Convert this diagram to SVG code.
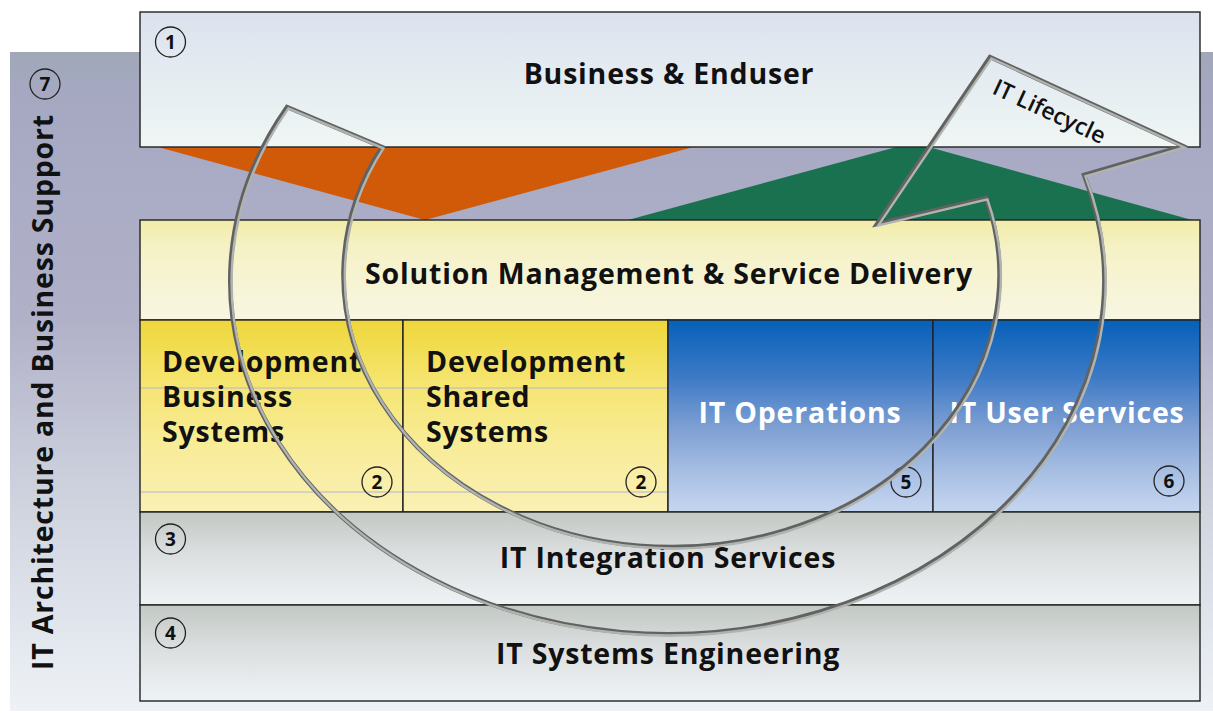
<svg xmlns="http://www.w3.org/2000/svg" width="1213" height="713" viewBox="0 0 1213 713">
  <defs>
    <linearGradient id="gBg" x1="0" y1="0" x2="0" y2="1">
      <stop offset="0" stop-color="#a0a8b8"/>
      <stop offset="0.06" stop-color="#a6a8c2"/>
      <stop offset="0.4" stop-color="#b0b0c8"/>
      <stop offset="0.65" stop-color="#ccd0dc"/>
      <stop offset="0.85" stop-color="#dfe4ec"/>
      <stop offset="1" stop-color="#eef2f6"/>
    </linearGradient>
    <linearGradient id="gTop" x1="0" y1="0" x2="0" y2="1">
      <stop offset="0" stop-color="#dbe2ee"/>
      <stop offset="0.45" stop-color="#e4ebf1"/>
      <stop offset="1" stop-color="#eff6f4"/>
    </linearGradient>
    <linearGradient id="gSol" x1="0" y1="0" x2="0" y2="1">
      <stop offset="0" stop-color="#f2eca8"/>
      <stop offset="0.3" stop-color="#f5f2c8"/>
      <stop offset="1" stop-color="#f8f6e2"/>
    </linearGradient>
    <linearGradient id="gDev" x1="0" y1="0" x2="0" y2="1">
      <stop offset="0" stop-color="#eed63a"/>
      <stop offset="0.3" stop-color="#f5e46c"/>
      <stop offset="0.65" stop-color="#f8ec98"/>
      <stop offset="1" stop-color="#f9f0b4"/>
    </linearGradient>
    <linearGradient id="gBlue" x1="0" y1="0" x2="0" y2="1">
      <stop offset="0" stop-color="#0660b8"/>
      <stop offset="0.3" stop-color="#3d7ac6"/>
      <stop offset="0.55" stop-color="#7c9ed2"/>
      <stop offset="0.8" stop-color="#a9c0e4"/>
      <stop offset="1" stop-color="#c6d6f0"/>
    </linearGradient>
    <linearGradient id="gGray" x1="0" y1="0" x2="0" y2="1">
      <stop offset="0" stop-color="#c2c8c4"/>
      <stop offset="0.45" stop-color="#dcdfe0"/>
      <stop offset="1" stop-color="#eef3f5"/>
    </linearGradient>
    <style>
      .box { stroke:#222; stroke-width:1.4; }
      .t { font-family:"Open Sans","DejaVu Sans",sans-serif; font-weight:700; font-size:28.5px; fill:#111; letter-spacing:0.8px; }
      .c { text-anchor:middle; }
      .w { fill:#ffffff; }
      .nc { fill:none; stroke:#222; stroke-width:1.3; }
      .n { font-family:"Open Sans","DejaVu Sans",sans-serif; font-weight:700; font-size:19px; fill:#111; text-anchor:middle; }
      .faint { stroke:#b4b4d4; stroke-width:1; }
      .arrowDark { fill:none; stroke:#626262; stroke-width:4.4; stroke-linejoin:miter; }
      .arrowLight { fill:none; stroke:#b0b4b0; stroke-width:2.4; stroke-linejoin:miter; }
      .lc { font-family:"Open Sans","DejaVu Sans",sans-serif; font-weight:600; font-size:23px; fill:#111; }
    </style>
  </defs>

  <g id="background">
    <rect x="10" y="52" width="1203" height="659" fill="url(#gBg)"/>
    <polygon points="154,146 697,146 425,220" fill="#d05a08"/>
    <polygon points="628,220 900,146 925,146 1192,220" fill="#1a7150"/>
  </g>

  <g id="node-architecture">
    <text class="t c" transform="translate(53,392) rotate(-90)">IT Architecture and Business Support</text>
    <circle class="nc" cx="45" cy="84" r="15"/>
    <text class="n" x="45" y="90.5">7</text>
  </g>

  <g id="node-business">
    <rect class="box" x="140" y="12" width="1060" height="135" fill="url(#gTop)"/>
    <text class="t c" x="669" y="84">Business &amp; Enduser</text>
    <circle class="nc" cx="170.5" cy="42" r="15"/>
    <text class="n" x="170.5" y="48.5">1</text>
  </g>

  <g id="node-solution">
    <rect class="box" x="140" y="220" width="1060" height="100" fill="url(#gSol)"/>
    <text class="t c" x="669" y="284">Solution Management &amp; Service Delivery</text>
  </g>

  <g id="node-dev-business">
    <rect class="box" x="140" y="320" width="263" height="192" fill="url(#gDev)"/>
    <line class="faint" x1="141" y1="388" x2="402" y2="388"/>
    <line class="faint" x1="141" y1="492" x2="402" y2="492"/>
    <text class="t" x="162" y="372">Development</text>
    <text class="t" x="162" y="407">Business</text>
    <text class="t" x="162" y="442">Systems</text>
    <circle class="nc" cx="377" cy="482" r="15"/>
    <text class="n" x="377" y="488.5">2</text>
  </g>

  <g id="node-dev-shared">
    <rect class="box" x="403" y="320" width="265" height="192" fill="url(#gDev)"/>
    <line class="faint" x1="404" y1="388" x2="667" y2="388"/>
    <line class="faint" x1="404" y1="492" x2="667" y2="492"/>
    <text class="t" x="426" y="372">Development</text>
    <text class="t" x="426" y="407">Shared</text>
    <text class="t" x="426" y="442">Systems</text>
    <circle class="nc" cx="641" cy="482" r="15"/>
    <text class="n" x="641" y="488.5">2</text>
  </g>

  <g id="node-operations">
    <rect class="box" x="668" y="320" width="265" height="192" fill="url(#gBlue)"/>
    <text class="t c w" x="800" y="423">IT Operations</text>
    <circle class="nc" cx="906" cy="482" r="15"/>
    <text class="n" x="906" y="488.5">5</text>
  </g>

  <g id="node-user-services">
    <rect class="box" x="933" y="320" width="267" height="192" fill="url(#gBlue)"/>
    <text class="t c w" x="1067" y="423">IT User Services</text>
    <circle class="nc" cx="1169" cy="481" r="15"/>
    <text class="n" x="1169" y="487.5">6</text>
  </g>

  <g id="node-integration">
    <rect class="box" x="140" y="512" width="1060" height="93" fill="url(#gGray)"/>
    <text class="t c" x="668" y="568">IT Integration Services</text>
    <circle class="nc" cx="170.5" cy="539" r="15"/>
    <text class="n" x="170.5" y="545.5">3</text>
  </g>

  <g id="node-engineering">
    <rect class="box" x="140" y="605" width="1060" height="96" fill="url(#gGray)"/>
    <text class="t c" x="668" y="664">IT Systems Engineering</text>
    <circle class="nc" cx="170.5" cy="633" r="15"/>
    <text class="n" x="170.5" y="639.5">4</text>
  </g>

  <g id="connectors">
    <path id="lifecycle" class="arrowDark" d="M 287,107 L 382,147 A 328 272 0 1 0 986,198 L 877,224 L 990,57 L 1183,146 L 1084,175 A 437 353 0 1 1 287,107 Z"/>
    <path class="arrowLight" transform="translate(1.4,1.4)" d="M 287,107 L 382,147 A 328 272 0 1 0 986,198 L 877,224 L 990,57 L 1183,146 L 1084,175 A 437 353 0 1 1 287,107 Z"/>
    <text class="lc" transform="translate(991,93) rotate(25)">IT Lifecycle</text>
  </g>
</svg>
